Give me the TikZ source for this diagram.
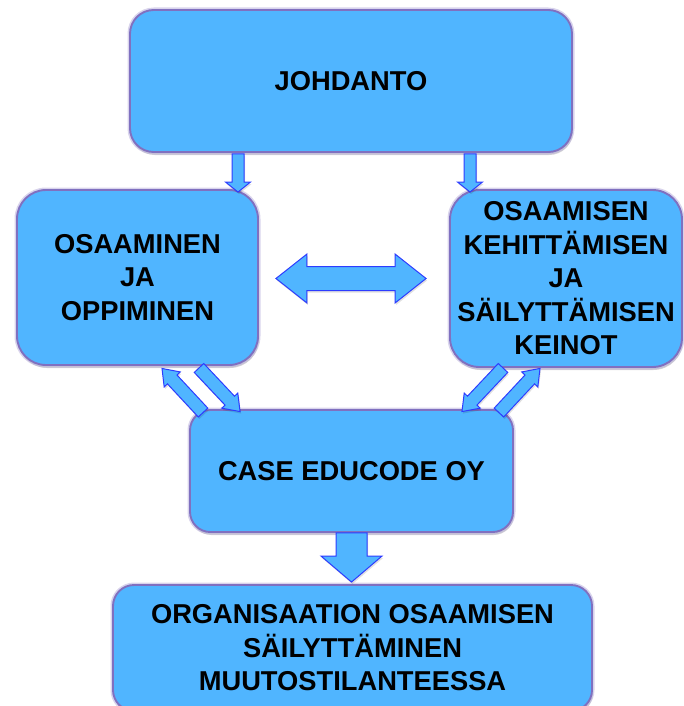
\documentclass[tikz,border=0pt]{standalone}
\usepackage{fontspec}
\setmainfont{Liberation Sans}
\usetikzlibrary{calc}

\definecolor{boxfill}{RGB}{80,181,255}
\definecolor{boxedge}{RGB}{128,112,192}
\definecolor{arrowedge}{RGB}{45,60,255}

\tikzset{
  box/.style={draw=boxedge, line width=1.9pt, fill=boxfill, inner sep=0pt, align=center,
    font=\fontsize{27.3}{33.5}\selectfont\bfseries,
    preaction={fill=black, opacity=0.16, transform canvas={xshift=1pt,yshift=-3pt}},
    preaction={draw=boxedge!60, line width=5pt, opacity=0.5}},
  barrow/.style={draw=arrowedge, line width=1pt, fill=boxfill, line join=miter,
    preaction={fill=black, opacity=0.12, transform canvas={xshift=1pt,yshift=-2pt}}},
}

% block arrow: tail, tip, shaft half-width, head half-width, head length
\newcommand\blockarrow[5]{%
  \coordinate (ba-h) at ($(#2)!#5!(#1)$);
  \draw[barrow] ($(#1)!#3!90:(#2)$) -- ($(ba-h)!#3!90:(#2)$) -- ($(ba-h)!#4!90:(#2)$) -- (#2)
    -- ($(ba-h)!#4!-90:(#2)$) -- ($(ba-h)!#3!-90:(#2)$) -- ($(#1)!#3!-90:(#2)$) -- cycle;}

% double-headed block arrow: tip, tip, shaft half-width, head half-width, head length
\newcommand\twowayarrow[5]{%
  \coordinate (da-a) at ($(#1)!#5!(#2)$);
  \coordinate (da-b) at ($(#2)!#5!(#1)$);
  \draw[barrow] (#1) -- ($(da-a)!#4!90:(#2)$) -- ($(da-a)!#3!90:(#2)$) -- ($(da-b)!#3!90:(#2)$)
    -- ($(da-b)!#4!90:(#2)$) -- (#2) -- ($(da-b)!#4!-90:(#2)$) -- ($(da-b)!#3!-90:(#2)$)
    -- ($(da-a)!#3!-90:(#2)$) -- ($(da-a)!#4!-90:(#2)$) -- cycle;}

\begin{document}
\begin{tikzpicture}[x=1pt,y=-1pt]
\useasboundingbox (0,0) rectangle (684,706);

% boxes
\node[box, minimum width=442pt, minimum height=142pt, rounded corners=23.7pt] (top) at (351,81) {JOHDANTO};
\node[box, minimum width=241pt, minimum height=175pt, rounded corners=29pt] (left) at (137.5,277.5)
  {OSAAMINEN\\JA\\OPPIMINEN};
\node[box, minimum width=232pt, minimum height=177pt, rounded corners=29.5pt] (right) at (566,278.5)
  {OSAAMISEN\\KEHITTÄMISEN\\JA\\SÄILYTTÄMISEN\\KEINOT};
\node[box, minimum width=323pt, minimum height=122pt, rounded corners=20.3pt] (case) at (351.5,471)
  {CASE EDUCODE OY};
\node[box, minimum width=479pt, minimum height=126pt, rounded corners=21pt] (final) at (352.5,648)
  {ORGANISAATION OSAAMISEN\\SÄILYTTÄMINEN\\MUUTOSTILANTEESSA};

% arrow end points
\coordinate (a1s) at ($(top.south)+(-113,1)$);
\coordinate (a1t) at ($(a1s |- left.north)+(0,3)$);
\coordinate (a2s) at ($(top.south)+(119,1)$);
\coordinate (a2t) at ($(a2s |- right.north)+(0,3)$);
\coordinate (hA) at ($(left.east)+(17,1)$);
\coordinate (hB) at ($(right.west)+(-23,0)$);
\coordinate (dls) at ($(left.south)+(61.5,2)$);
\coordinate (dlt) at ($(case.north west)+(51,2.5)$);
\coordinate (uls) at ($(case.north west)+(14,3.5)$);
\coordinate (ult) at ($(left.south)+(24.5,2.5)$);
\coordinate (drs) at ($(right.south)+(-63,0)$);
\coordinate (drt) at ($(case.north east)+(-52,2.5)$);
\coordinate (urs) at ($(case.north east)+(-15,3.5)$);
\coordinate (urt) at ($(right.south)+(-26,0.5)$);
\coordinate (cs) at (case.south);
\coordinate (ct) at ($(final.north)+(-1,-2)$);

% arrows
\blockarrow{a1s}{a1t}{6pt}{12.5pt}{10pt}
\blockarrow{a2s}{a2t}{6pt}{12.5pt}{10pt}
\twowayarrow{hA}{hB}{12pt}{24.5pt}{31pt}
\blockarrow{dls}{dlt}{6.5pt}{11pt}{15pt}
\blockarrow{uls}{ult}{6.5pt}{11pt}{15pt}
\blockarrow{drs}{drt}{6.5pt}{11pt}{15pt}
\blockarrow{urs}{urt}{6.5pt}{11pt}{15pt}
\blockarrow{cs}{ct}{15.5pt}{30.5pt}{26pt}
\end{tikzpicture}
\end{document}
